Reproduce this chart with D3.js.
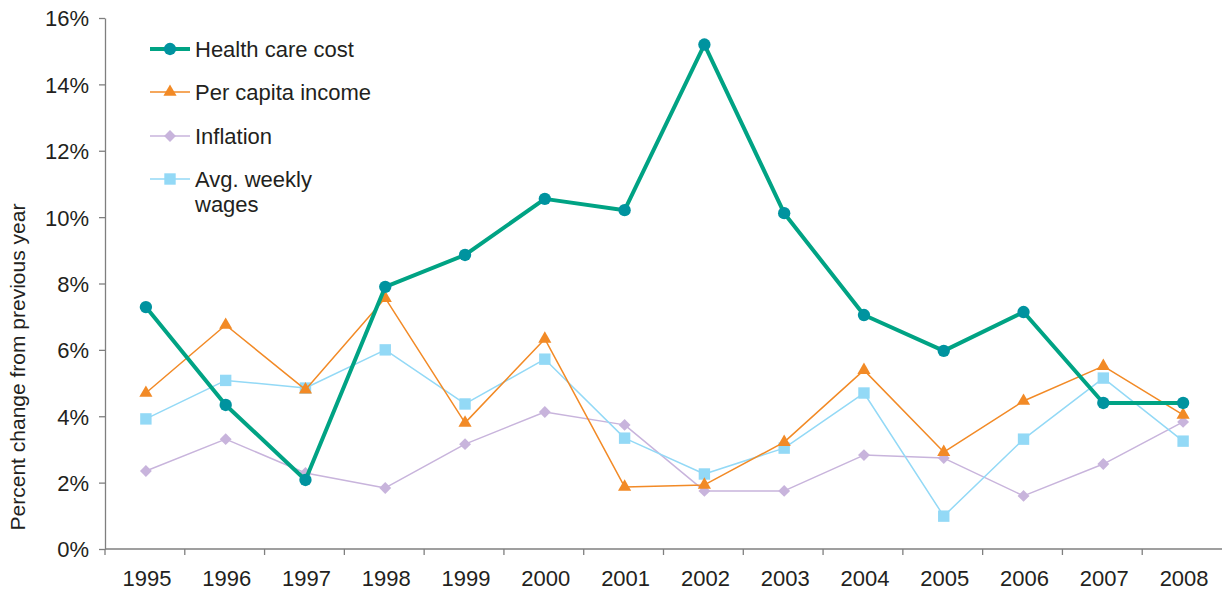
<!DOCTYPE html>
<html lang="en">
<head>
    <meta charset="UTF-8">
    <title>Health care cost vs income, inflation, wages</title>
    <script src="https://d3js.org/d3.v7.min.js"></script>
    <style>
        body {
            margin: 0;
            background: #fff;
            font-family: "Liberation Sans", Arial, sans-serif;
        }
        .axis text {
            font-size: 22px;
            fill: #231f20;
        }
        .axis path, .axis line {
            stroke: #7f7f7f;
            stroke-width: 1.3px;
        }
        .legend text {
            font-size: 22px;
            fill: #231f20;
        }
    </style>
</head>
<body>
<svg id="chart" width="1223" height="594"></svg>

<script>
    const years = ["1995", "1996", "1997", "1998", "1999", "2000", "2001",
                   "2002", "2003", "2004", "2005", "2006", "2007", "2008"];
    const healthCost = [7.29, 4.34, 2.08, 7.9, 8.86, 10.55, 10.21, 15.2, 10.12, 7.05, 5.97, 7.14, 4.4, 4.4];
    const perCapitaIncome = [4.7, 6.75, 4.8, 7.56, 3.8, 6.33, 1.87, 1.93, 3.22, 5.39, 2.92, 4.46, 5.51, 4.04];
    const inflation = [2.35, 3.31, 2.29, 1.84, 3.16, 4.13, 3.74, 1.75, 1.75, 2.83, 2.74, 1.6, 2.56, 3.83];
    const weeklyWages = [3.92, 5.08, 4.85, 6.0, 4.37, 5.72, 3.34, 2.26, 3.04, 4.7, 0.99, 3.31, 5.15, 3.25];
    const yTicks = [0, 2, 4, 6, 8, 10, 12, 14, 16];

    const series = [
        {name: ["Health care cost"], values: healthCost, line: "#00a384", mark: "#00939f", width: 4, shape: d3.symbolCircle, size: 120},
        {name: ["Per capita income"], values: perCapitaIncome, line: "#f28a26", mark: "#f28a26", width: 1.5, shape: d3.symbolTriangle, size: 75},
        {name: ["Inflation"], values: inflation, line: "#c8b4dc", mark: "#c8b4dc", width: 1.5, shape: d3.symbolDiamond2, size: 90},
        {name: ["Avg. weekly", "wages"], values: weeklyWages, line: "#93d9f6", mark: "#93d9f6", width: 1.5, shape: d3.symbolSquare, size: 130}
    ];

    const svg = d3.select("#chart");
    const margin = {left: 105, right: 1, top: 18, bottom: 45};
    const width = 1223, height = 594;

    const x = d3.scaleBand()
        .domain(years)
        .range([margin.left, width - margin.right]);

    const y = d3.scaleLinear()
        .domain([0, 16])
        .range([height - margin.bottom, margin.top]);

    // axes
    svg.append("g")
        .attr("class", "axis")
        .attr("transform", `translate(0,${y(0)})`)
        .call(d3.axisBottom(x).tickSize(0).tickPadding(21))
        .call(g => g.select(".domain").attr("d", `M${margin.left},0H${width - margin.right}`))
        .call(g => g.selectAll(".tick text").attr("dx", 2));

    // band boundary ticks on the x axis
    svg.append("g")
        .attr("class", "axis")
        .selectAll("line")
        .data(years)
        .join("line")
        .attr("x1", d => x(d))
        .attr("x2", d => x(d))
        .attr("y1", y(0))
        .attr("y2", y(0) + 6);

    svg.append("g")
        .attr("class", "axis")
        .attr("transform", `translate(${margin.left},0)`)
        .call(d3.axisLeft(y).tickValues(yTicks).tickFormat(d => d + "%").tickSize(6).tickSizeOuter(0).tickPadding(10))
        .call(g => g.selectAll(".tick text").attr("dy", "0.36em"));

    svg.append("text")
        .attr("transform", `translate(25,367) rotate(-90)`)
        .attr("text-anchor", "middle")
        .attr("font-size", 21)
        .attr("fill", "#231f20")
        .text("Percent change from previous year");

    const line = d3.line()
        .x((d, i) => x(years[i]) + x.bandwidth() / 2 + 1)
        .y(d => y(d));

    // draw thin series first, health cost on top
    const order = [series[2], series[3], series[1], series[0]];
    order.forEach(s => {
        const g = svg.append("g");
        g.append("path")
            .datum(s.values)
            .attr("fill", "none")
            .attr("stroke", s.line)
            .attr("stroke-width", s.width)
            .attr("stroke-linejoin", "round")
            .attr("d", line);
        g.selectAll("path.mark")
            .data(s.values)
            .join("path")
            .attr("class", "mark")
            .attr("transform", (d, i) => `translate(${x(years[i]) + x.bandwidth() / 2 + 1},${y(d)})`)
            .attr("d", d3.symbol().type(s.shape).size(s.size))
            .attr("fill", s.mark);
    });

    // legend
    const legendY = [49, 92, 136, 179];
    const legend = svg.append("g").attr("class", "legend");
    series.forEach((s, i) => {
        const g = legend.append("g").attr("transform", `translate(150,${legendY[i]})`);
        g.append("line")
            .attr("x1", 0).attr("x2", 40)
            .attr("stroke", s.line)
            .attr("stroke-width", s.width);
        g.append("path")
            .attr("transform", "translate(20,0)")
            .attr("d", d3.symbol().type(s.shape).size(s.size))
            .attr("fill", s.mark);
        const t = g.append("text")
            .attr("x", 45)
            .attr("y", 8);
        s.name.forEach((n, j) => {
            t.append("tspan").attr("x", 45).attr("dy", j === 0 ? 0 : 25).text(n);
        });
    });
</script>
</body>
</html>
